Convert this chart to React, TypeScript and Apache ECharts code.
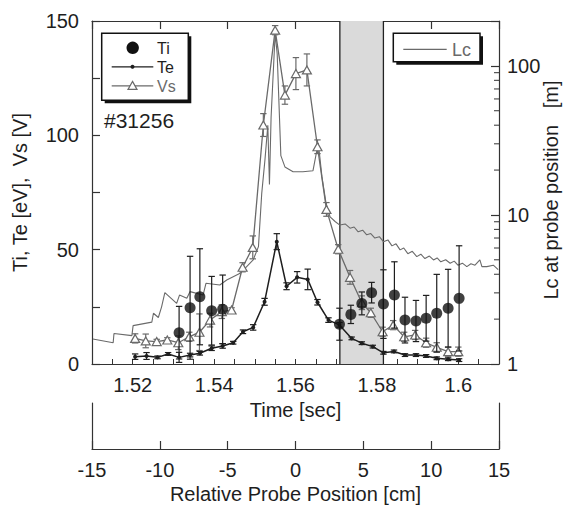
import React, { useEffect, useRef } from "react";
import * as echarts from "echarts";

// ---------- data ----------
const timeLabelValues = [1.52, 1.54, 1.56, 1.58, 1.6];
const leftLabelValues = [0, 50, 100, 150];
const rightLabelValues = [1, 10, 100];
const rightMinorTicks = [2, 3, 4, 5, 6, 7, 8, 9, 20, 30, 40, 50, 60, 70, 80, 90];

const tiTime = [1.5314, 1.5341, 1.5365, 1.5394, 1.5421, 1.5708, 1.5736, 1.5763, 1.5787, 1.5816, 1.5843, 1.5869, 1.5896, 1.5921, 1.5947, 1.5975, 1.6002];
const tiValue = [13.7, 24.6, 29.4, 23.3, 23.9, 17.4, 21.7, 26.5, 31.2, 26.2, 30.2, 19.2, 18.8, 20.0, 22.2, 24.4, 28.7];
const tiError = [11.5, 22.5, 21, 15, 15, 7, 4, 5, 4.5, 15, 14.5, 10, 9, 10, 17, 17, 23];

const teTime = [1.5206, 1.5234, 1.5261, 1.5287, 1.5314, 1.5341, 1.5365, 1.5394, 1.5421, 1.5447, 1.5471, 1.5496, 1.5524, 1.5554, 1.5578, 1.5604, 1.563, 1.5654, 1.5681, 1.5708, 1.5738, 1.5763, 1.579, 1.5816, 1.5842, 1.5869, 1.5896, 1.5921, 1.5947, 1.5975, 1.6002];
const teValue = [3.2, 3.5, 2.9, 4.4, 2.9, 3.9, 4.7, 6.9, 7.9, 9.3, 14.1, 16, 27.2, 53.5, 34, 37.9, 37, 27, 19.2, 17.1, 11.2, 9.1, 7.6, 4.9, 5.5, 3.9, 3.9, 3.5, 2.5, 2.1, 1.7];
const teError = [1.2, 1.5, 0.6, 0.6, 2.2, 0.8, 0.8, 1, 1, 0.6, 0.8, 1.2, 1.5, 3.5, 1.5, 2.5, 4.5, 1.2, 1, 1, 0.6, 0.6, 0.6, 0.6, 0.6, 0.6, 0.6, 0.6, 0.6, 0.6, 0.6];

const vsTime = [1.5206, 1.5232, 1.5259, 1.5285, 1.5312, 1.5339, 1.5364, 1.539, 1.5419, 1.5443, 1.547, 1.5495, 1.5521, 1.555, 1.5574, 1.5601, 1.5628, 1.5654, 1.5676, 1.5705, 1.5734, 1.5763, 1.5785, 1.5814, 1.584, 1.5867, 1.5894, 1.5921, 1.5947, 1.5975, 1.6];
const vsValue = [11.2, 10.1, 9.8, 10.5, 9.3, 11.9, 13.9, 19.2, 22.9, 23.6, 42.3, 51, 104.5, 146, 117.6, 127, 128.6, 95, 67.6, 50.2, 37.9, 26.8, 22.4, 14.1, 17, 11.9, 12.7, 9.3, 7.3, 5.4, 5.4];
const vsError = [2, 3, 1, 1, 3, 2, 8, 3, 3, 1, 2, 5, 5, 2, 4, 7, 7, 3, 3, 2, 3, 3, 2, 2, 2, 2, 2, 2, 2, 2, 2];

const lcTime = [1.5102, 1.5152, 1.5154, 1.5198, 1.5201, 1.5247, 1.5251, 1.5263, 1.5271, 1.5279, 1.5308, 1.5315, 1.5333, 1.5341, 1.5373, 1.538, 1.5414, 1.5431, 1.5464, 1.5496, 1.5509, 1.5517, 1.5525, 1.5532, 1.5536, 1.554, 1.555, 1.5555, 1.5559, 1.5564, 1.5574, 1.5594, 1.5618, 1.5643, 1.565, 1.5656, 1.5665, 1.5675, 1.5685, 1.5698, 1.5709, 1.5722, 1.5734, 1.5744, 1.5754, 1.5765, 1.5775, 1.5785, 1.5795, 1.5806, 1.5816, 1.5827, 1.5837, 1.5847, 1.5857, 1.5866, 1.5876, 1.5887, 1.5898, 1.5908, 1.5918, 1.5929, 1.5939, 1.5948, 1.5957, 1.5969, 1.598, 1.599, 1.5999, 1.601, 1.6021, 1.6031, 1.6041, 1.6053, 1.6058, 1.607, 1.6086, 1.6098];
const lcValue = [1.47, 1.39, 1.6, 1.55, 1.81, 1.91, 2.19, 2.05, 2.42, 3.01, 2.55, 2.9, 2.76, 3.06, 2.9, 3.48, 3.39, 3.66, 4.06, 4.99, 6.13, 13.9, 23.5, 40, 16, 45, 165, 120, 60, 25, 21, 19.5, 19.5, 19.8, 25, 30.5, 18, 12, 9.7, 9.0, 8.55, 8.7, 8.15, 8.3, 7.7, 7.9, 7.36, 7.5, 7.0, 7.15, 6.62, 6.8, 6.2, 6.4, 5.83, 6.0, 5.5, 5.7, 5.25, 5.45, 5.1, 5.3, 4.99, 5.15, 4.85, 5.0, 4.74, 4.9, 4.6, 4.75, 4.5, 4.7, 4.6, 4.99, 4.5, 4.5, 4.6, 4.3];

const bandTime = [1.5709, 1.5816];

// ---------- styles ----------
const FONT = "'Liberation Sans', Arial, Helvetica, sans-serif";
const INK = "#1e1e1e";
const GREY = "#6a6a6a";

function errorBarSeries(times: number[], values: number[], errors: number[], color: string, z: number) {
  return {
    type: "custom",
    xAxisIndex: 0,
    yAxisIndex: 0,
    z,
    silent: true,
    clip: false,
    data: times.map((t, i) => [t, values[i], errors[i]]),
    encode: { x: 0, y: 1 },
    renderItem: (_p: any, api: any) => {
      const t = api.value(0);
      const v = api.value(1);
      const e = api.value(2);
      if (!e) return null;
      const top = api.coord([t, v + e]);
      const bot = api.coord([t, Math.max(v - e, 0)]);
      const hw = 3.2;
      const st = { stroke: color, lineWidth: 1.2 };
      return {
        type: "group",
        children: [
          { type: "line", shape: { x1: top[0], y1: top[1], x2: bot[0], y2: bot[1] }, style: st },
          { type: "line", shape: { x1: top[0] - hw, y1: top[1], x2: top[0] + hw, y2: top[1] }, style: st },
          { type: "line", shape: { x1: bot[0] - hw, y1: bot[1], x2: bot[0] + hw, y2: bot[1] }, style: st },
        ],
      };
    },
  };
}

const axisLineStyle = { onZero: false, lineStyle: { color: "#333", width: 1.2 } };
const labelStyle = { fontSize: 20, color: INK, fontFamily: FONT };
const legendText = { fontSize: 16, lineHeight: 16, fontFamily: FONT, verticalAlign: "middle" };

export default function App() {
  const ref = useRef<HTMLDivElement>(null);

  useEffect(() => {
    if (!ref.current) return;
    const chart = echarts.init(ref.current, undefined, { renderer: "svg" });

    const option: any = {
      animation: false,
      backgroundColor: "#ffffff",
      textStyle: { fontFamily: FONT },
      grid: [
        { left: 92, top: 21, width: 407, height: 343, containLabel: false, outerBoundsMode: "none" },
        { left: 92, top: 403, width: 407, height: 46, containLabel: false, outerBoundsMode: "none" },
      ],
      xAxis: [
        {
          gridIndex: 0,
          type: "value",
          min: 1.51,
          max: 1.61,
          interval: 0.005,
          position: "bottom",
          axisLine: axisLineStyle,
          axisTick: { inside: true, length: 5, lineStyle: { color: "#333", width: 1 } },
          axisLabel: {
            ...labelStyle,
            margin: 11,
            formatter: (v: number) => {
              const hit = timeLabelValues.find((x) => Math.abs(x - v) < 1e-6);
              return hit !== undefined ? String(hit) : "";
            },
          },
          splitLine: { show: false },
          name: "Time [sec]",
          nameLocation: "middle",
          nameGap: 36,
          nameTextStyle: labelStyle,
        },
        {
          gridIndex: 1,
          type: "value",
          min: -15,
          max: 15,
          interval: 5,
          position: "bottom",
          axisLine: axisLineStyle,
          axisTick: { inside: true, length: 8, lineStyle: { color: "#333", width: 1.2 } },
          axisLabel: { ...labelStyle, margin: 11 },
          splitLine: { show: false },
          name: "Relative Probe Position [cm]",
          nameLocation: "middle",
          nameGap: 35,
          nameTextStyle: labelStyle,
        },
        {
          gridIndex: 0,
          type: "value",
          min: -15,
          max: 15,
          interval: 5,
          position: "top",
          axisLine: axisLineStyle,
          axisTick: { inside: true, length: 8, lineStyle: { color: "#333", width: 1.2 } },
          axisLabel: { show: false },
          splitLine: { show: false },
        },
      ],
      yAxis: [
        {
          gridIndex: 0,
          type: "value",
          min: 0,
          max: 150,
          interval: 25,
          position: "left",
          axisLine: axisLineStyle,
          axisTick: { inside: true, length: 8, lineStyle: { color: "#333", width: 1.2 } },
          axisLabel: {
            ...labelStyle,
            margin: 13,
            formatter: (v: number) => (leftLabelValues.some((x) => Math.abs(x - v) < 1e-6) ? String(Math.round(v)) : ""),
          },
          splitLine: { show: false },
          name: "Ti, Te [eV],  Vs [V]",
          nameLocation: "middle",
          nameRotate: 90,
          nameGap: 62,
          nameTextStyle: labelStyle,
        },
        {
          gridIndex: 0,
          type: "log",
          logBase: 10,
          min: 1,
          max: 200,
          position: "right",
          axisLine: axisLineStyle,
          axisTick: { inside: true, length: 8, lineStyle: { color: "#333", width: 1.2 } },
          axisLabel: {
            ...labelStyle,
            margin: 8,
            formatter: (v: number) => {
              const hit = rightLabelValues.find((x) => Math.abs(x - v) < 1e-6 * x);
              return hit !== undefined ? String(hit) : "";
            },
          },
          splitLine: { show: false },
          minorTick: { show: false },
        },
        {
          gridIndex: 1,
          type: "value",
          min: 0,
          max: 1,
          position: "left",
          axisLine: axisLineStyle,
          axisTick: { show: false },
          axisLabel: { show: false },
          splitLine: { show: false },
        },
        {
          gridIndex: 1,
          type: "value",
          min: 0,
          max: 1,
          position: "right",
          axisLine: axisLineStyle,
          axisTick: { show: false },
          axisLabel: { show: false },
          splitLine: { show: false },
        },
      ],
      series: [
        {
          type: "custom",
          name: "band",
          xAxisIndex: 0,
          yAxisIndex: 0,
          z: 1,
          silent: true,
          data: [[bandTime[0], bandTime[1]]],
          encode: { x: [0, 1] },
          renderItem: (_p: any, api: any) => {
            const p0 = api.coord([api.value(0), 150]);
            const p1 = api.coord([api.value(1), 0]);
            return {
              type: "group",
              children: [
                { type: "rect", shape: { x: p0[0], y: p0[1], width: p1[0] - p0[0], height: p1[1] - p0[1] }, style: { fill: "#dadada" } },
                { type: "line", shape: { x1: p0[0], y1: p0[1], x2: p0[0], y2: p1[1] }, style: { stroke: "#222", lineWidth: 1.3 } },
                { type: "line", shape: { x1: p1[0], y1: p0[1], x2: p1[0], y2: p1[1] }, style: { stroke: "#222", lineWidth: 1.3 } },
              ],
            };
          },
        },
        {
          type: "custom",
          name: "lcMinorTicks",
          xAxisIndex: 0,
          yAxisIndex: 1,
          z: 2,
          silent: true,
          clip: false,
          data: rightMinorTicks.map((v) => [1.61, v]),
          encode: { x: 0, y: 1 },
          renderItem: (_p: any, api: any) => {
            const p = api.coord([api.value(0), api.value(1)]);
            return { type: "line", shape: { x1: p[0], y1: p[1], x2: p[0] - 5, y2: p[1] }, style: { stroke: "#333", lineWidth: 1 } };
          },
        },
        {
          type: "line",
          name: "Lc",
          xAxisIndex: 0,
          yAxisIndex: 1,
          z: 2,
          symbol: "none",
          showSymbol: false,
          lineStyle: { color: GREY, width: 1.1 },
          data: lcTime.map((t, i) => [t, lcValue[i]]),
        },
        errorBarSeries(vsTime, vsValue, vsError, GREY, 3),
        {
          type: "line",
          name: "Vs",
          z: 3,
          symbol: "triangle",
          symbolSize: [9, 8],
          lineStyle: { color: GREY, width: 1.3 },
          itemStyle: { color: "#ffffff", borderColor: GREY, borderWidth: 1.2 },
          data: vsTime.map((t, i) => [t, vsValue[i]]),
        },
        errorBarSeries(teTime, teValue, teError, INK, 4),
        {
          type: "line",
          name: "Te",
          z: 4,
          symbol: "circle",
          symbolSize: 4,
          lineStyle: { color: INK, width: 1.5 },
          itemStyle: { color: INK },
          data: teTime.map((t, i) => [t, teValue[i]]),
        },
        errorBarSeries(tiTime, tiValue, tiError, INK, 5),
        {
          type: "scatter",
          name: "Ti",
          z: 6,
          symbol: "circle",
          symbolSize: 11,
          itemStyle: { color: "#111" },
          data: tiTime.map((t, i) => [t, tiValue[i]]),
        },
      ],
      graphic: [
        // left legend box
        { type: "rect", z: 20, shape: { x: 104.7, y: 36.3, width: 86.6, height: 67 }, style: { fill: "#111" } },
        { type: "rect", z: 21, shape: { x: 101.7, y: 33.3, width: 86.6, height: 67 }, style: { fill: "#fff", stroke: "#111", lineWidth: 1.5 } },
        { type: "circle", z: 22, shape: { cx: 132.7, cy: 47.8, r: 6.2 }, style: { fill: "#111" } },
        { type: "text", z: 22, x: 157, y: 48.3, style: { ...legendText, text: "Ti", fill: INK } },
        { type: "line", z: 22, shape: { x1: 111.7, y1: 66.8, x2: 153.3, y2: 66.8 }, style: { stroke: INK, lineWidth: 1.3 } },
        { type: "circle", z: 22, shape: { cx: 132.5, cy: 66.8, r: 2 }, style: { fill: INK } },
        { type: "text", z: 22, x: 157, y: 67.3, style: { ...legendText, text: "Te", fill: INK } },
        { type: "line", z: 22, shape: { x1: 111.7, y1: 85.8, x2: 153.3, y2: 85.8 }, style: { stroke: GREY, lineWidth: 1.2 } },
        { type: "polygon", z: 22, shape: { points: [[132.5, 81.4], [137, 89.4], [128, 89.4]] }, style: { fill: "#fff", stroke: GREY, lineWidth: 1.2 } },
        { type: "text", z: 22, x: 157, y: 86.3, style: { ...legendText, text: "Vs", fill: GREY } },
        // right legend box
        { type: "rect", z: 20, shape: { x: 396.3, y: 36.3, width: 86.7, height: 28.4 }, style: { fill: "#111" } },
        { type: "rect", z: 21, shape: { x: 393.3, y: 33.3, width: 86.7, height: 28.4 }, style: { fill: "#fff", stroke: "#111", lineWidth: 1.5 } },
        { type: "line", z: 22, shape: { x1: 403.3, y1: 49.3, x2: 446.7, y2: 49.3 }, style: { stroke: GREY, lineWidth: 1.2 } },
        { type: "text", z: 22, x: 452, y: 49.8, style: { ...legendText, fontSize: 18, lineHeight: 18, text: "Lc", fill: GREY } },
        // shot number
        { type: "text", z: 22, x: 104, y: 120, style: { text: "#31256", fontSize: 21, fontFamily: FONT, fill: INK, verticalAlign: "middle" } },
        // right axis title
        {
          type: "text",
          z: 22,
          x: 551,
          y: 190,
          rotation: Math.PI / 2,
          style: { text: "Lc at probe position   [m]", fontSize: 20, fontFamily: FONT, fill: INK, align: "center", verticalAlign: "middle" },
        },
      ],
    };

    chart.setOption(option);
    return () => chart.dispose();
  }, []);

  return <div ref={ref} style={{ position: "absolute", left: 0, top: 0, width: 566, height: 507, background: "#fff" }} />;
}
